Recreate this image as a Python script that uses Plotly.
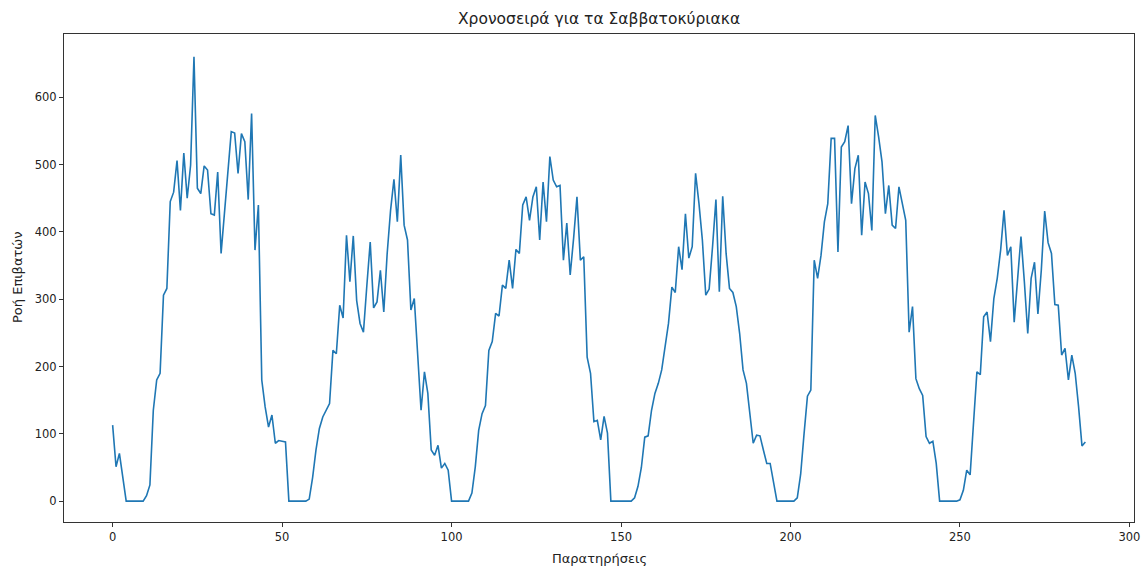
import plotly.graph_objects as go

# Passenger flow per weekend observation (5-minute slots across several weekend days)
observations = list(range(288))
passenger_flow = [
    113, 51, 71, 35, 0, 0, 0, 0, 0, 0,
    8, 24, 135, 180, 190, 306, 316, 445, 459, 506,
    432, 517, 450, 499, 660, 465, 457, 498, 492, 427,
    425, 489, 368, 430, 490, 549, 547, 487, 546, 534,
    448, 576, 373, 440, 180, 140, 110, 128, 86, 90,
    89, 88, 0, 0, 0, 0, 0, 0, 3, 35,
    76, 108, 125, 135, 145, 224, 219, 291, 272, 395,
    326, 394, 298, 264, 251, 320, 385, 287, 296, 343,
    281, 368, 432, 478, 415, 514, 410, 388, 284, 301,
    224, 135, 192, 160, 76, 68, 83, 49, 56, 46,
    0, 0, 0, 0, 0, 0, 12, 51, 105, 130,
    142, 224, 237, 279, 275, 321, 316, 358, 316, 374,
    368, 440, 452, 417, 452, 467, 388, 474, 415, 512,
    477, 467, 469, 358, 413, 336, 390, 452, 358, 363,
    214, 190, 118, 120, 91, 126, 101, 0, 0, 0,
    0, 0, 0, 0, 5, 22, 50, 95, 97, 135,
    160, 175, 195, 229, 264, 318, 310, 378, 344, 427,
    361, 378, 487, 442, 388, 306, 315, 378, 448, 311,
    453, 368, 316, 310, 289, 249, 195, 175, 130, 86,
    98, 97, 76, 56, 56, 26, 0, 0, 0, 0,
    0, 0, 5, 40, 100, 156, 165, 358, 331, 365,
    415, 442, 539, 539, 370, 526, 534, 558, 442, 494,
    514, 395, 474, 457, 402, 573, 541, 504, 427, 469,
    410, 405, 467, 442, 417, 251, 289, 182, 167, 157,
    96, 86, 89, 56, 0, 0, 0, 0, 0, 0,
    2, 16, 46, 39, 116, 192, 188, 274, 281, 237,
    301, 331, 373, 432, 365, 378, 266, 333, 393, 326,
    249, 331, 355, 278, 343, 431, 384, 368, 292, 291,
    217, 227, 180, 217, 190, 140, 82, 88,
]

x_ticks = [0, 50, 100, 150, 200, 250, 300]
y_ticks = [0, 100, 200, 300, 400, 500, 600]

title_text = "Χρονοσειρά για τα Σαββατοκύριακα"
x_label = "Παρατηρήσεις"
y_label = "Ροή Επιβατών"

font_family = "DejaVu Sans"

fig = go.Figure()
fig.add_trace(go.Scatter(
    x=observations,
    y=passenger_flow,
    mode="lines",
    line=dict(color="#1f77b4", width=1.6),
    showlegend=False,
    hoverinfo="skip",
))

# Padding around the data on both axes
x_min, x_max = min(observations), max(observations)
x_pad = (x_max - x_min) * 0.05

axis_common = dict(
    showline=True,
    mirror=True,
    linecolor="#333333",
    linewidth=1,
    ticks="outside",
    ticklen=4,
    tickwidth=1,
    tickcolor="#333333",
    showgrid=False,
    zeroline=False,
    ticklabeloverflow="allow",
    tickfont=dict(family=font_family, size=11.5, color="#222222"),
)

fig.update_xaxes(
    range=[x_min - x_pad, x_max + x_pad],
    tickmode="array",
    tickvals=x_ticks,
    ticktext=[str(v) for v in x_ticks],
    **axis_common,
)
fig.update_yaxes(
    range=[-31, 694],
    tickmode="array",
    tickvals=y_ticks,
    ticktext=[str(v) for v in y_ticks],
    **axis_common,
)

fig.update_layout(
    width=1144,
    height=566,
    margin=dict(l=64, r=4, t=34, b=44),
    paper_bgcolor="white",
    plot_bgcolor="white",
    font=dict(family=font_family, color="#222222"),
    annotations=[
        dict(
            text=title_text, xref="paper", yref="paper",
            x=0.5, y=1, xanchor="center", yanchor="bottom", yshift=4,
            showarrow=False, font=dict(family=font_family, size=15.5, color="#222222"),
        ),
        dict(
            text=x_label, xref="paper", yref="paper",
            x=0.5, y=0, xanchor="center", yanchor="top", yshift=-27,
            showarrow=False, font=dict(family=font_family, size=13, color="#222222"),
        ),
        dict(
            text=y_label, xref="paper", yref="paper",
            x=0, y=0.5, xanchor="center", yanchor="middle", xshift=-47,
            textangle=-90,
            showarrow=False, font=dict(family=font_family, size=13, color="#222222"),
        ),
    ],
)

fig.write_html("out.html")
